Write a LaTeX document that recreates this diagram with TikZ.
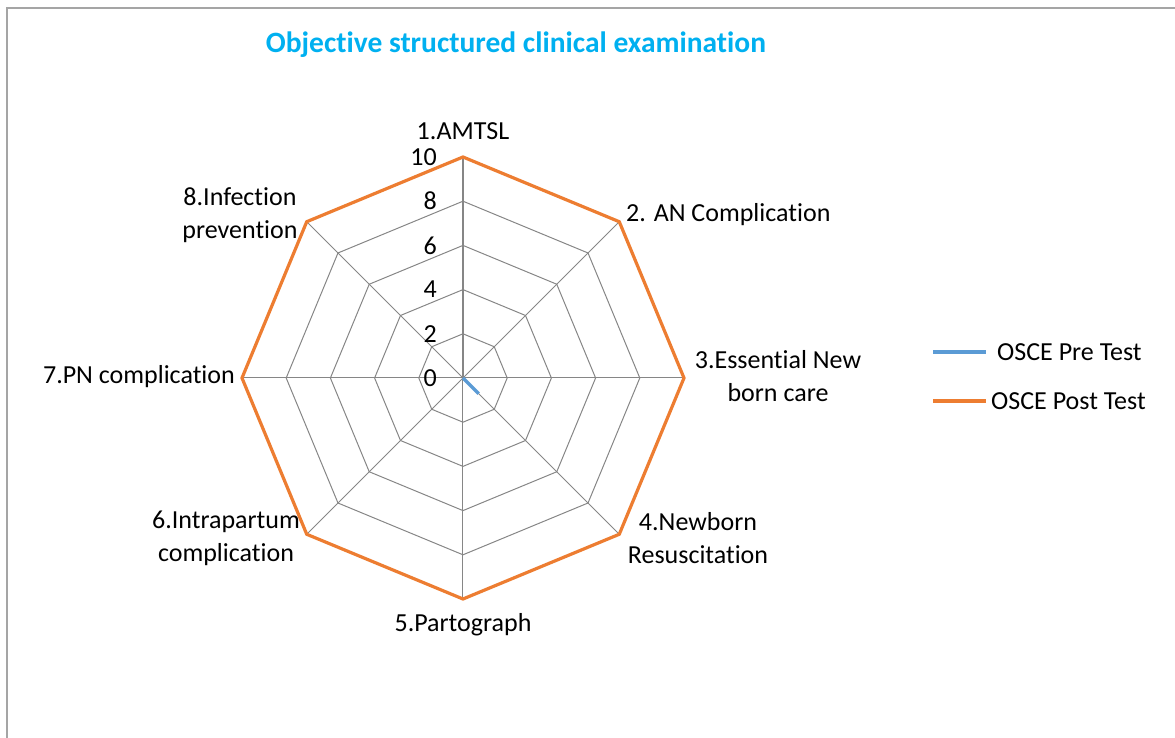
\documentclass[tikz,border=0pt]{standalone}
\usepackage{fontspec}
\setmainfont[RawFeature={-liga}]{Carlito}
\usepackage{xcolor}
\definecolor{titleblue}{RGB}{0,176,240}
\definecolor{preblue}{RGB}{91,155,213}
\definecolor{postorange}{RGB}{237,125,49}
\definecolor{gridgray}{RGB}{134,134,134}
\definecolor{framegray}{RGB}{165,165,165}

\begin{document}
\begin{tikzpicture}[x=1pt, y=1pt,
    every node/.style={font=\fontsize{26}{33}\selectfont, inner sep=0pt},
    gridline/.style={draw=gridgray, line width=1pt},
    postline/.style={draw=postorange, line width=3.2pt},
    preline/.style={draw=preblue, line width=3.2pt},
    axislbl/.style={align=center},
    ticklbl/.style={anchor=east}]
    \useasboundingbox (-463,-360) rectangle (712,378);
    \draw[framegray, line width=1.5pt] (-456,370) rectangle (740,-390);

    % title
    \node[font=\fontsize{29.5}{35}\selectfont\bfseries, text=titleblue] (title) at (53,333) {Objective structured clinical examination};

    % axes and rings
    \coordinate (c) at (0,0);
    \foreach \k in {1,...,8} {
        \coordinate (o\k) at ({90-45*(\k-1)}:221);
    }
    \foreach \r in {2,4,6,8} {
        \draw[gridline] (90:{\r*22.1}) \foreach \a in {45,0,-45,-90,-135,-180,-225} { -- (\a:{\r*22.1}) } -- cycle;
    }
    \foreach \k in {1,...,8} {
        \draw[gridline] (c) -- (o\k);
    }
    \draw[gridline, line width=1.6pt] (c) -- (o1);

    % tick labels
    \foreach \v in {0,2,4,6,8,10} {
        \node[ticklbl] (tick\v) at (-26,{\v*22.1}) {\v};
    }

    % series
    \draw[postline] (o1) -- (o2) -- (o3) -- (o4) -- (o5) -- (o6) -- (o7) -- (o8) -- cycle;
    \coordinate (pre4) at (-45:22.1);
    \draw[preline] (c) -- (pre4);

    % axis labels
    \node[axislbl] (amtsl) at (0,247) {1.AMTSL};
    \node[anchor=west] (ancomp) at (163,163) {2. AN Complication};
    \node[axislbl] (newborn) at (315,2) {3.Essential New\\born care};
    \node[axislbl] (resus) at (235,-160) {4.Newborn\\Resuscitation};
    \node[axislbl] (parto) at (0,-247) {5.Partograph};
    \node[axislbl] (intra) at (-237,-160) {6.Intrapartum\\complication};
    \node[anchor=east] (pncomp) at (-228,1) {7.PN complication};
    \node[axislbl] (infect) at (-223,163) {8.Infection\\prevention};

    % legend
    \coordinate (preA) at (470,26);
    \coordinate (preB) at (523,26);
    \coordinate (postA) at (470,-23);
    \coordinate (postB) at (523,-23);
    \draw[preline] (preA) -- (preB);
    \draw[postline] (postA) -- (postB);
    \node[anchor=west] (prelbl) at (534,26) {OSCE Pre Test};
    \node[anchor=west] (postlbl) at (528,-23) {OSCE Post Test};
\end{tikzpicture}
\end{document}
